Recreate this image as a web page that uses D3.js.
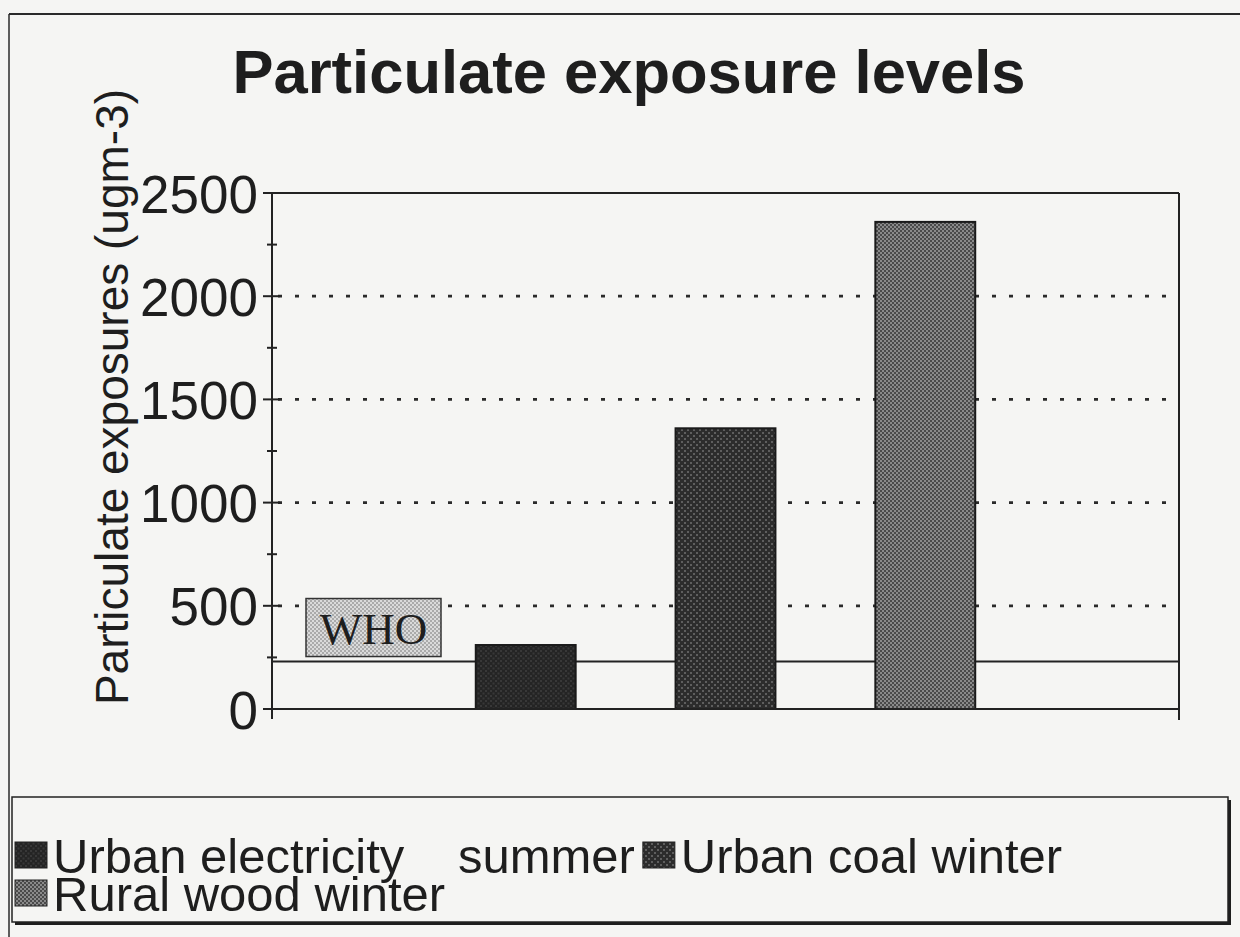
<!DOCTYPE html>
<html>
<head>
<meta charset="utf-8">
<script src="https://cdn.jsdelivr.net/npm/d3@7"></script>
<style>
  html, body { margin: 0; padding: 0; background: #f5f5f3; }
  svg { display: block; }
</style>
</head>
<body>
<svg id="chart" width="1240" height="937"></svg>
<script>
// Particulate exposure by household setting (ug/m3)
const categories = ["Urban electricity  summer", "Urban coal winter", "Rural wood winter"];
const values = [310, 1360, 2360];
const yTicks = [0, 500, 1000, 1500, 2000, 2500];
const yMinorTicks = [250, 750, 1250, 1750, 2250];
const whoLimit = 230;
const whoLabel = "WHO";
const title = "Particulate exposure levels";
const yLabel = "Particulate exposures (ugm-3)";

const SANS = "'Liberation Sans', Arial, Helvetica, sans-serif";
const SERIF = "'Liberation Serif', 'Times New Roman', serif";
const INK = "#1e1e1e";

const W = 1240, H = 937;
const svg = d3.select("#chart");
const defs = svg.append("defs");

// Halftone-like fills, one per series
function halftone(id, base, dot, size, dotSize) {
  const p = defs.append("pattern")
    .attr("id", id).attr("patternUnits", "userSpaceOnUse")
    .attr("width", size).attr("height", size);
  p.append("rect").attr("width", size).attr("height", size).attr("fill", base);
  p.append("rect").attr("x", 0).attr("y", 0).attr("width", dotSize).attr("height", dotSize).attr("fill", dot);
  p.append("rect").attr("x", size / 2).attr("y", size / 2).attr("width", dotSize).attr("height", dotSize).attr("fill", dot);
}
halftone("fill0", "#242424", "#383838", 5, 2);
halftone("fill1", "#2c2c2c", "#5e5e5e", 6, 2);
halftone("fill2", "#4a4a4a", "#8a8a8a", 4, 2);
halftone("fillWho", "#aaaaaa", "#dadada", 4, 2);
const seriesFill = ["url(#fill0)", "url(#fill1)", "url(#fill2)"];

function txt(sel) {
  return sel.style("font-family", SANS).style("fill", INK);
}

// Outer frame (top and left edges of the page border)
svg.append("line").attr("x1", 9).attr("x2", W).attr("y1", 14).attr("y2", 14)
  .attr("stroke", "#2a2a2a").attr("stroke-width", 2);
svg.append("line").attr("x1", 9).attr("x2", 9).attr("y1", 14).attr("y2", H)
  .attr("stroke", "#2a2a2a").attr("stroke-width", 1.5);

// Title
txt(svg.append("text")).attr("x", 629).attr("y", 93)
  .attr("text-anchor", "middle").attr("font-size", 61.5).attr("font-weight", "bold")
  .text(title);

// Plot area
const plot = { left: 272, right: 1179, top: 193, bottom: 709 };
const y = d3.scaleLinear().domain([0, 2500]).range([plot.bottom, plot.top]);
const x = d3.scaleBand().domain(categories).range([plot.left, plot.right])
  .paddingInner(0.5).paddingOuter(1.02);

const g = svg.append("g");

// Dotted gridlines
g.selectAll("line.grid").data(yTicks.filter(d => d > 0 && d < 2500)).join("line")
  .attr("class", "grid")
  .attr("x1", plot.left + 6).attr("x2", plot.right)
  .attr("y1", d => y(d)).attr("y2", d => y(d))
  .attr("stroke", "#2a2a2a").attr("stroke-width", 2.8)
  .attr("stroke-dasharray", "4 13");

// Top and right frame edges
g.append("line").attr("x1", plot.left).attr("x2", plot.right)
  .attr("y1", plot.top).attr("y2", plot.top).attr("stroke", "#222").attr("stroke-width", 2);
g.append("line").attr("x1", plot.right).attr("x2", plot.right)
  .attr("y1", plot.top).attr("y2", plot.bottom + 11).attr("stroke", "#222").attr("stroke-width", 2);

// WHO guideline
g.append("line").attr("x1", plot.left).attr("x2", plot.right)
  .attr("y1", y(whoLimit)).attr("y2", y(whoLimit))
  .attr("stroke", "#222").attr("stroke-width", 2);

// Bars
g.selectAll("rect.bar").data(values).join("rect")
  .attr("class", "bar")
  .attr("x", (d, i) => x(categories[i]))
  .attr("width", x.bandwidth())
  .attr("y", d => y(d))
  .attr("height", d => y(0) - y(d))
  .attr("fill", (d, i) => seriesFill[i])
  .attr("stroke", "#1a1a1a").attr("stroke-width", 2);

// Y axis with crossing ticks
const yAxis = d3.axisLeft(y).tickValues(yTicks).tickFormat(d3.format("d")).tickSize(0).tickPadding(14);
const ax = g.append("g").attr("transform", `translate(${plot.left},0)`).call(yAxis);
ax.select(".domain").remove();
ax.selectAll("text").attr("font-size", 53).style("font-family", SANS)
  .style("fill", INK).attr("dy", "0.36em");
g.append("line").attr("x1", plot.left).attr("x2", plot.left)
  .attr("y1", plot.top).attr("y2", plot.bottom + 10).attr("stroke", "#222").attr("stroke-width", 2);
g.selectAll("line.major").data(yTicks).join("line").attr("class", "major")
  .attr("x1", plot.left - 9).attr("x2", plot.left + 8)
  .attr("y1", d => y(d)).attr("y2", d => y(d)).attr("stroke", "#222").attr("stroke-width", 2);
g.selectAll("line.minor").data(yMinorTicks).join("line").attr("class", "minor")
  .attr("x1", plot.left - 5).attr("x2", plot.left + 5)
  .attr("y1", d => y(d)).attr("y2", d => y(d)).attr("stroke", "#222").attr("stroke-width", 2);
// Baseline
g.append("line").attr("x1", plot.left - 9).attr("x2", plot.right)
  .attr("y1", y(0)).attr("y2", y(0)).attr("stroke", "#222").attr("stroke-width", 2);

// Y axis title
txt(svg.append("text"))
  .attr("transform", `translate(${112},${(plot.top + plot.bottom) / 2 - 54}) rotate(-90)`)
  .attr("text-anchor", "middle").attr("dy", "0.35em")
  .attr("font-size", 46).text(yLabel);

// WHO label box above the guideline
const whoBox = { x: plot.left + 34, w: 135, h: 58 };
const whoBottom = y(whoLimit) - 5;
svg.append("rect").attr("x", whoBox.x).attr("y", whoBottom - whoBox.h)
  .attr("width", whoBox.w).attr("height", whoBox.h)
  .attr("fill", "url(#fillWho)").attr("stroke", "#333").attr("stroke-width", 1.5);
svg.append("text").attr("x", whoBox.x + whoBox.w / 2).attr("y", whoBottom - whoBox.h / 2)
  .attr("dy", "0.36em").attr("text-anchor", "middle")
  .style("font-family", SERIF).style("fill", INK).attr("font-size", 45)
  .text(whoLabel);

// Legend
const legend = { x: 12, y: 797, w: 1216, h: 125 };
svg.append("rect").attr("x", legend.x + 3).attr("y", legend.y + 3)
  .attr("width", legend.w).attr("height", legend.h).attr("fill", "#1e1e1e");
svg.append("rect").attr("x", legend.x).attr("y", legend.y)
  .attr("width", legend.w).attr("height", legend.h)
  .attr("fill", "#f5f5f3").attr("stroke", "#222").attr("stroke-width", 1.5);

const lg = svg.append("g");
const fontSize = 49, sw = 32, sh = 26, rowGap = 38, wideGap = 40;
let cx = legend.x + 3, row = 0;
const row0 = legend.y + 60;
categories.forEach((name, i) => {
  // a double space in a name is drawn as a wider gap
  const parts = name.split("  ");
  const t = txt(lg.append("text")).attr("font-size", fontSize).attr("dy", "0.33em");
  parts.forEach((p, k) => {
    t.append("tspan").attr("dx", k === 0 ? 0 : wideGap).text((k === 0 ? "" : " ") + p);
  });
  const tw = t.node().getComputedTextLength() + wideGap * (parts.length - 1);
  if (cx + sw + 6 + tw > legend.x + legend.w - 10) { cx = legend.x + 3; row += 1; }
  const cy = row0 + row * rowGap;
  lg.append("rect").attr("x", cx).attr("y", cy - sh / 2 - 2)
    .attr("width", sw).attr("height", sh)
    .attr("fill", seriesFill[i]).attr("stroke", "#222").attr("stroke-width", 1);
  t.attr("x", cx + sw + 6).attr("y", cy);
  cx += sw + 6 + tw + 8;
});
</script>
</body>
</html>
